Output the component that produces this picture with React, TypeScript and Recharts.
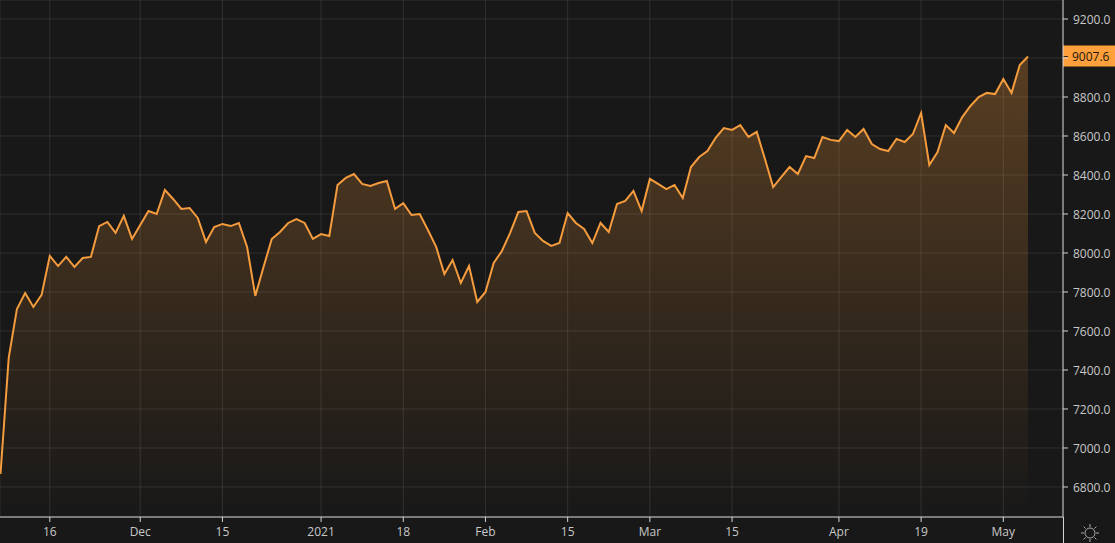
import { AreaChart, Area, XAxis, YAxis, CartesianGrid, ReferenceLine } from 'recharts';

const closes = [
  6867, 7462, 7713, 7795, 7723, 7785, 7985, 7933, 7980, 7928, 7974, 7980,
  8138, 8159, 8103, 8190, 8072, 8144, 8215, 8200, 8323, 8277, 8226, 8231, 8180, 8056, 8133, 8149, 8138, 8154, 8031, 7780,
  7928, 8072, 8108, 8154, 8174, 8154, 8072, 8097, 8087, 8349, 8385, 8405, 8354, 8344, 8359, 8369, 8226, 8256, 8195, 8200,
  8118, 8031, 7892, 7964, 7846, 7933, 7749, 7800, 7949, 8010, 8103, 8210, 8215, 8103, 8062, 8036, 8051, 8205, 8154, 8123,
  8051, 8154, 8108, 8251, 8267, 8318, 8215, 8380, 8354, 8328, 8349, 8282, 8441, 8492, 8523, 8590, 8641, 8631, 8656, 8595,
  8621, 8482, 8338, 8390, 8441, 8405, 8497, 8487, 8595, 8580, 8574, 8631, 8595, 8636, 8559, 8533, 8523, 8585, 8569, 8610,
  8718, 8451, 8518, 8656, 8615, 8697, 8754, 8800, 8821, 8815, 8892, 8821, 8964, 9007.6,
];
const xTicks = [6, 17, 27, 39, 49, 59, 69, 79, 89, 102, 112, 122];
const xLabels = ['16', 'Dec', '15', '2021', '18', 'Feb', '15', 'Mar', '15', 'Apr', '19', 'May'];
const yTicks = [6800, 7000, 7200, 7400, 7600, 7800, 8000, 8200, 8400, 8600, 8800, 9000, 9200];
// covered by the price tag in the original
const hiddenYLabel = 9000;

const data = closes.map((close, i) => ({ i, close }));
const last = closes[closes.length - 1];

const FONT = '"Open Sans", sans-serif';
const BG = '#181818';
const AXIS = '#d4d4d4';
const TEXT = '#c8c8c8';

// orange price tag that sits on the right axis
function PriceTag({ viewBox }: any) {
  const x = viewBox.x + viewBox.width;
  const y = viewBox.y;
  return (
    <g>
      <rect x={x} y={y - 11} width={52} height={21} fill="#ffa03c" />
      <line x1={x} x2={x + 5} y1={y} y2={y} stroke="#3a2a14" />
      <text x={x + 9} y={y + 4.5} fontSize={12} fontFamily={FONT} fill="#1c1408">
        {last.toFixed(1)}
      </text>
    </g>
  );
}

export default function App() {
  return (
    <div style={{ position: 'absolute', left: 0, top: 0, width: 1115, height: 543, background: BG, overflow: 'hidden' }}>
      <AreaChart width={1115} height={543} data={data} margin={{ top: 0, right: 0, bottom: 0, left: 0 }}>
        <defs>
          <linearGradient id="closeFill" x1="0" y1="0" x2="0" y2="1">
            <stop offset="0%" stopColor="#ffa03c" stopOpacity={0.28} />
            <stop offset="100%" stopColor="#ffa03c" stopOpacity={0} />
          </linearGradient>
        </defs>
        <CartesianGrid stroke="#ffffff" strokeOpacity={0.1} />
        <XAxis
          dataKey="i"
          type="number"
          domain={[-0.06, 129.26]}
          allowDataOverflow
          ticks={xTicks}
          interval={0}
          height={26}
          tickSize={5}
          tickMargin={5}
          stroke={AXIS}
          tick={{ fill: TEXT, fontSize: 12, fontFamily: FONT }}
          tickFormatter={(v: number) => xLabels[xTicks.indexOf(v)]}
        />
        <YAxis
          orientation="right"
          type="number"
          domain={[6646, 9297.4]}
          allowDataOverflow
          ticks={yTicks}
          interval={0}
          width={52}
          tickSize={5}
          tickMargin={5}
          stroke={AXIS}
          tick={{ fill: TEXT, fontSize: 12, fontFamily: FONT, dy: 1 }}
          tickFormatter={(v: number) => (v === hiddenYLabel ? '' : v.toFixed(1))}
        />
        <Area
          type="linear"
          dataKey="close"
          stroke="#f59c3e"
          strokeWidth={2}
          fill="url(#closeFill)"
          fillOpacity={1}
          dot={false}
          activeDot={false}
          isAnimationActive={false}
        />
        <ReferenceLine y={last} stroke="none" label={<PriceTag />} />
      </AreaChart>
      <svg width={1115} height={543} style={{ position: 'absolute', left: 0, top: 0, pointerEvents: 'none' }}>
        <line x1={1063.5} x2={1063.5} y1={517} y2={543} stroke={AXIS} />
        <g stroke="#a8a8a8" fill="none">
          <circle cx={1090} cy={533} r={5} />
          <path d="M1090 524v3M1090 539v3M1081 533h3M1096 533h3M1083.6 526.6l2 2M1094.4 537.4l2 2M1083.6 539.4l2 -2M1094.4 528.6l2 -2" />
        </g>
      </svg>
    </div>
  );
}
